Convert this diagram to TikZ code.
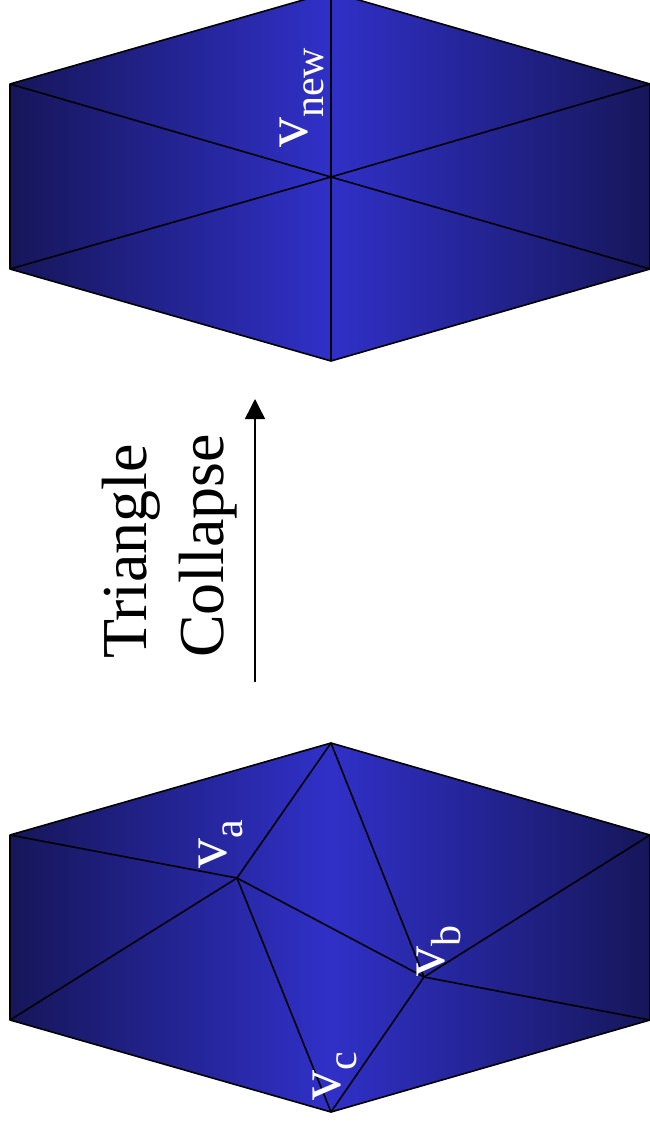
\documentclass[tikz,border=0pt]{standalone}
\usepackage{fontspec}
\setmainfont{Liberation Serif}
\usetikzlibrary{arrows.meta}
\definecolor{meshdark}{HTML}{16165A}
\definecolor{meshlight}{HTML}{3030C8}
\tikzset{
  meshshade/.style={left color=meshdark,right color=meshdark,middle color=meshlight},
  edge/.style={draw=black,line width=1.6pt,line join=round},
  title/.style={rotate=90,anchor=base west,inner sep=0pt,font=\fontsize{64}{64}\selectfont},
  vlabel/.style={rotate=90,anchor=base west,inner sep=0pt,text=white,font=\fontsize{60}{60}\selectfont}
}
\newcommand{\subt}[1]{\raisebox{-16pt}{\fontsize{42}{42}\selectfont #1}}
\begin{document}
\begin{tikzpicture}[x=1pt,y=-1pt]
\useasboundingbox (0,0) rectangle (650,1127);
\clip (0,0) rectangle (650,1127);
% upper mesh
\coordinate (ut) at (331,-8);
\coordinate (ur) at (650,84);
\coordinate (urb) at (650,269);
\coordinate (ub) at (331,361);
\coordinate (ulb) at (10,269);
\coordinate (ul) at (10,84);
\coordinate (uc) at (331,177);
\shade[meshshade] (ut) -- (ur) -- (urb) -- (ub) -- (ulb) -- (ul) -- cycle;
\draw[edge] (ut) -- (ur) -- (urb) -- (ub) -- (ulb) -- (ul) -- cycle;
\foreach \p in {ut,ur,urb,ub,ulb,ul} \draw[edge] (uc) -- (\p);
% lower mesh
\coordinate (lt) at (331,743);
\coordinate (lr) at (650,835);
\coordinate (lrb) at (650,1020);
\coordinate (lb) at (331,1112);
\coordinate (llb) at (10,1020);
\coordinate (ll) at (10,835);
\coordinate (va) at (237,878);
\coordinate (vb) at (424,977);
\shade[meshshade] (lt) -- (lr) -- (lrb) -- (lb) -- (llb) -- (ll) -- cycle;
\draw[edge] (lt) -- (lr) -- (lrb) -- (lb) -- (llb) -- (ll) -- cycle;
\foreach \p in {ll,llb,lt,lb,vb} \draw[edge] (va) -- (\p);
\foreach \p in {lt,lr,lrb,lb} \draw[edge] (vb) -- (\p);
% labels
\node[vlabel] (vnew) at (307,148) {v\subt{new}};
\node[vlabel] (la) at (226,869) {v\subt{a}};
\node[vlabel] (lbb) at (444,977) {v\subt{b}};
\node[vlabel] (lc) at (340,1101) {v\subt{c}};
% title and arrow
\node[title] (t1) at (146,659) {Triangle};
\node[title] (t2) at (223,658) {Collapse};
\coordinate (as) at (255,682);
\coordinate (ae) at (255,399);
\draw[line width=1.5pt,-{Triangle[length=20pt,width=20pt]}] (as) -- (ae);
\end{tikzpicture}
\end{document}
